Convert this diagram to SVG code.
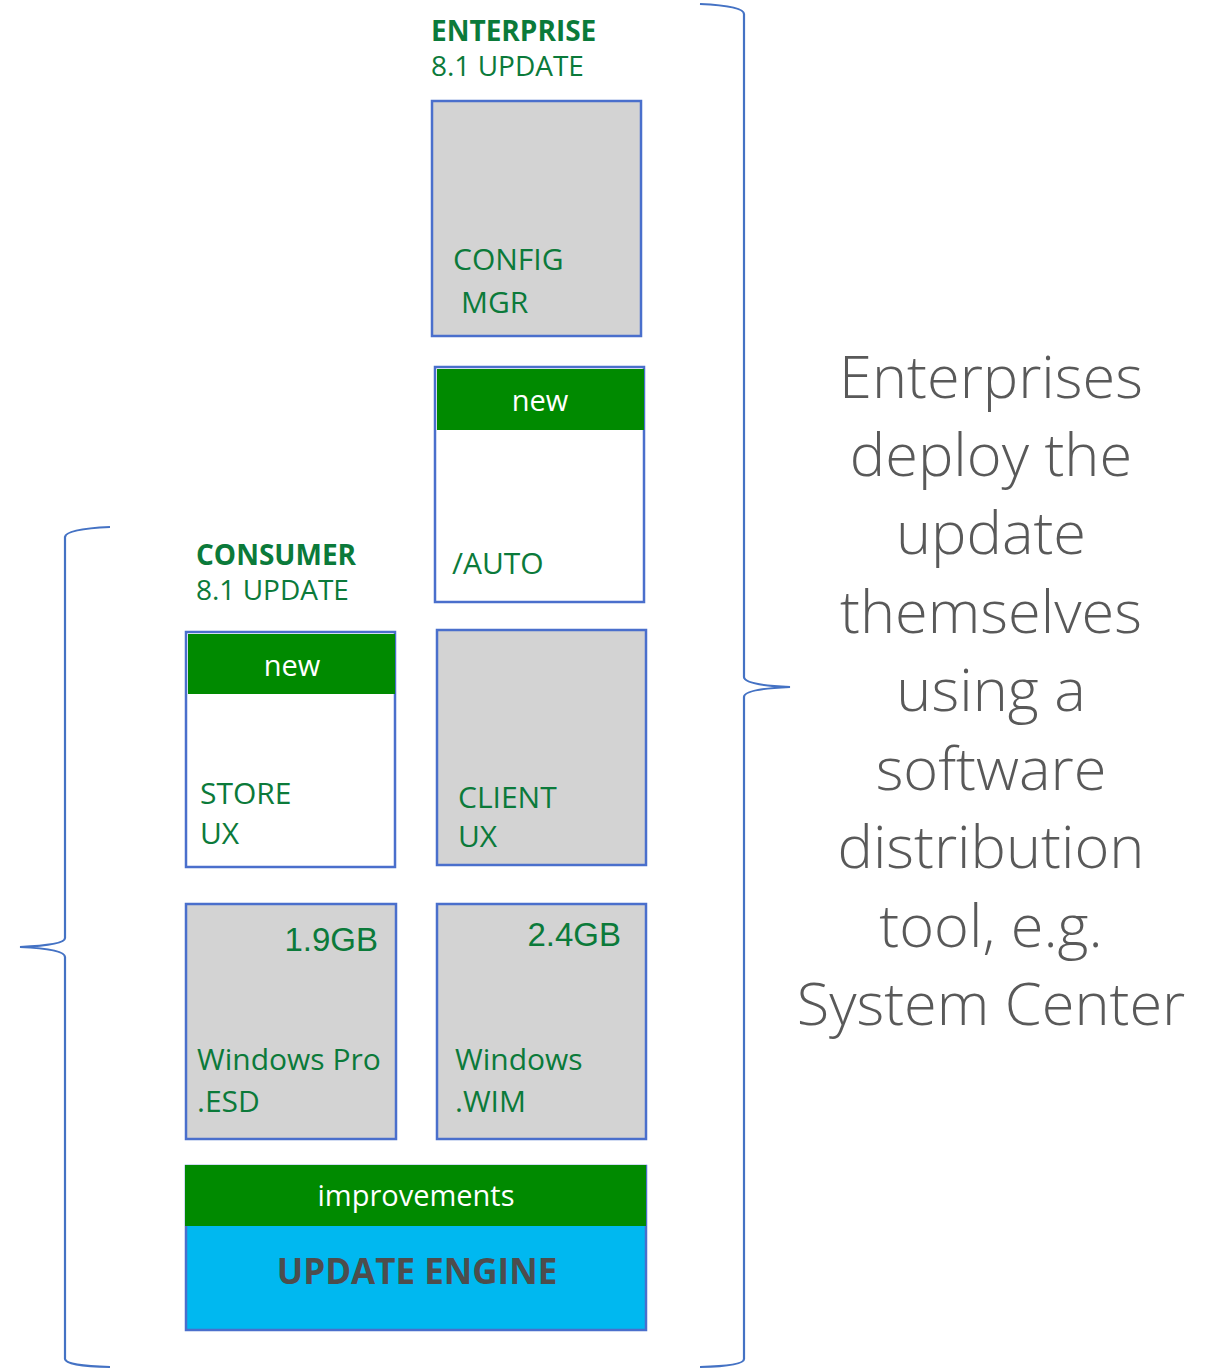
<svg xmlns="http://www.w3.org/2000/svg" width="1212" height="1369" viewBox="0 0 1212 1369">
<style>
.box{stroke:#4a6fcc;stroke-width:2.5}
.gray{fill:#d3d3d3}
.white{fill:#ffffff}
.band{fill:#008a00}
.lbl{font-family:"Open Sans","Noto Sans","Liberation Sans",sans-serif;font-size:30px;fill:#0b7a3a}
.hd{font-family:"Open Sans","Noto Sans","Liberation Sans",sans-serif;font-size:28px;fill:#0b7a3a}
.hdb{font-weight:bold}
.new{font-family:"Open Sans","Noto Sans","Liberation Sans",sans-serif;font-size:29px;fill:#ffffff;text-anchor:middle}
.gb{font-family:"Liberation Sans",Arial,sans-serif;font-size:33px;fill:#0b7a3a;text-anchor:end}
.side{font-family:"Open Sans","Noto Sans","Liberation Sans",sans-serif;font-weight:300;font-size:59.5px;fill:#595959;text-anchor:middle}
.brace{fill:none;stroke:#4472c4;stroke-width:2.2}
</style>
<rect width="1212" height="1369" fill="#ffffff"/>
<g id="connectors">
<path class="brace" d="M110,527 Q66,529 65,537 L65,938 Q65,945 20,947 Q65,949 65,957 L65,1359 Q66,1366 110,1367"/>
<path class="brace" d="M700,4 Q744,6 744,14 L744,677 Q744,685 790,687 Q744,689 744,697 L744,1359 Q744,1366 700,1367"/>
</g>
<g id="enterprise-heading">
<text class="hd hdb" x="431" y="41">ENTERPRISE</text>
<text class="hd" x="431" y="76">8.1 UPDATE</text>
</g>
<g id="consumer-heading">
<text class="hd hdb" x="196" y="565">CONSUMER</text>
<text class="hd" x="196" y="600">8.1 UPDATE</text>
</g>
<g id="config-mgr">
<rect class="box gray" x="432" y="101" width="209" height="235"/>
<text class="lbl" x="453" y="270">CONFIG</text>
<text class="lbl" x="461" y="313">MGR</text>
</g>
<g id="auto">
<rect class="box white" x="435" y="367" width="209" height="235"/>
<rect class="band" x="437" y="369" width="207" height="61"/>
<text class="new" x="540" y="411">new</text>
<text class="lbl" x="452" y="574">/AUTO</text>
</g>
<g id="store-ux">
<rect class="box white" x="186" y="632" width="209" height="235"/>
<rect class="band" x="188" y="634" width="207" height="60"/>
<text class="new" x="292" y="676">new</text>
<text class="lbl" x="200" y="804">STORE</text>
<text class="lbl" x="200" y="844">UX</text>
</g>
<g id="client-ux">
<rect class="box gray" x="437" y="630" width="209" height="235"/>
<text class="lbl" x="458" y="808">CLIENT</text>
<text class="lbl" x="458" y="847">UX</text>
</g>
<g id="windows-pro-esd">
<rect class="box gray" x="186" y="904" width="210" height="235"/>
<text class="gb" x="378" y="951">1.9GB</text>
<text class="lbl" x="197" y="1070">Windows Pro</text>
<text class="lbl" x="197" y="1112">.ESD</text>
</g>
<g id="windows-wim">
<rect class="box gray" x="437" y="904" width="209" height="235"/>
<text class="gb" x="621" y="946">2.4GB</text>
<text class="lbl" x="455" y="1070">Windows</text>
<text class="lbl" x="455" y="1112">.WIM</text>
</g>
<g id="update-engine">
<rect class="box" x="186" y="1166" width="460" height="164" fill="#00b8f0"/>
<rect class="band" x="185" y="1165" width="461" height="61"/>
<text class="new" x="416" y="1206">improvements</text>
<text x="417" y="1284" font-family="'Open Sans','Noto Sans','Liberation Sans',sans-serif" font-weight="bold" font-size="35" fill="#4d4d4d" text-anchor="middle">UPDATE ENGINE</text>
</g>
<g id="side-text">
<text class="side" x="991" y="398">Enterprises</text>
<text class="side" x="991" y="476">deploy the</text>
<text class="side" x="991" y="554">update</text>
<text class="side" x="991" y="633">themselves</text>
<text class="side" x="991" y="711">using a</text>
<text class="side" x="991" y="790">software</text>
<text class="side" x="991" y="868">distribution</text>
<text class="side" x="991" y="947">tool, e.g.</text>
<text class="side" x="991" y="1025">System Center</text>
</g>
</svg>
